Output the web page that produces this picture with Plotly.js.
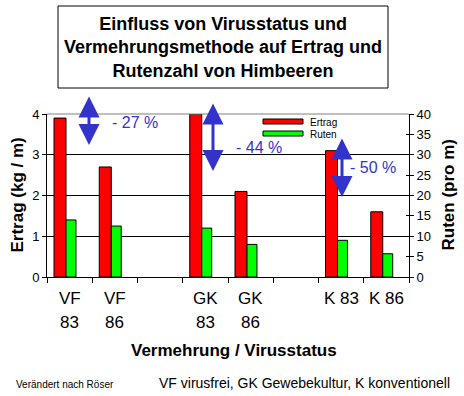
<!DOCTYPE html>
<html><head><meta charset="utf-8">
<script src="https://cdn.plot.ly/plotly-3.0.1.min.js"></script>
<style>body{margin:0;padding:0;background:#fff}#chart{width:464px;height:396px}</style>
</head><body><div id="chart"></div>
<script>
// Data
const positions = [0, 1, 3, 4, 6, 7];           // category slots (2 and 5 empty)
const labelLine1 = ['VF', 'VF', 'GK', 'GK', 'K 83', 'K 86'];
const labelLine2 = ['83', '86', '83', '86', '', ''];
const ertrag = [3.9, 2.7, 4.0, 2.1, 3.1, 1.6];  // kg / m
const ruten = [14, 12.5, 12, 8, 9, 5.7];        // pro m
const seriesNames = ['Ertrag', 'Ruten'];
const diffTexts = ['- 27 %', '- 44 %', '- 50 %'];
const boundaryTicks = [-0.5, 0.5, 1.5, 2.5, 3.5, 4.5, 5.5, 6.5, 7.5];

const FONT = 'Arial, "Liberation Sans", sans-serif';
const BLUE = '#3333cc';
const L = 47, R = 409, T = 114, B = 277;
const px = v => (v - L) / (R - L);
const py = v => (B - v) / (B - T);

const traces = [
  {type: 'bar', x: positions, y: ertrag, name: seriesNames[0], yaxis: 'y',
   width: 0.265, offset: -0.345,
   marker: {color: '#ff0000', line: {color: '#000', width: 1}}, showlegend: false},
  {type: 'bar', x: positions, y: ruten, name: seriesNames[1], yaxis: 'y2',
   width: 0.22, offset: -0.08,
   marker: {color: '#00ff00', line: {color: '#000', width: 1}}, showlegend: false},
  // invisible helper trace so the inner tick marks of the right axis are drawn
  {type: 'scatter', x: [positions[0]], y: [0], yaxis: 'y3', mode: 'markers', marker: {opacity: 0}, showlegend: false, hoverinfo: 'skip'}
];

const annotations = [];
positions.forEach((p, i) => {
  annotations.push({x: p, xref: 'x', y: py(298), yref: 'paper', text: labelLine1[i],
    showarrow: false, font: {family: FONT, size: 17, color: '#000'}, xanchor: 'center', yanchor: 'middle'});
  if (labelLine2[i]) annotations.push({x: p, xref: 'x', y: py(322), yref: 'paper', text: labelLine2[i],
    showarrow: false, font: {family: FONT, size: 17, color: '#000'}, xanchor: 'center', yanchor: 'middle'});
});
annotations.push(
  {x: px(223), y: py(48), xref: 'paper', yref: 'paper', xanchor: 'center', yanchor: 'middle',
   text: '<b>Einfluss von Virusstatus und<br>Vermehrungsmethode auf Ertrag und<br>Rutenzahl von Himbeeren</b>',
   showarrow: false, font: {family: FONT, size: 18, color: '#000'}},
  {x: px(234), y: py(350), xref: 'paper', yref: 'paper', xanchor: 'center', yanchor: 'middle', text: '<b>Vermehrung / Virusstatus</b>',
   showarrow: false, font: {family: FONT, size: 17, color: '#000'}},
  {x: px(17), y: 0.5, xref: 'paper', yref: 'paper', xanchor: 'center', yanchor: 'middle', text: '<b>Ertrag (kg / m)</b>', textangle: -90,
   showarrow: false, font: {family: FONT, size: 17, color: '#000'}},
  {x: px(448), y: 0.5, xref: 'paper', yref: 'paper', xanchor: 'center', yanchor: 'middle', text: '<b>Ruten (pro m)</b>', textangle: -90,
   showarrow: false, font: {family: FONT, size: 17, color: '#000'}},
  {x: px(14), y: py(384), xref: 'paper', yref: 'paper', text: 'Verändert nach Röser', xanchor: 'left', yanchor: 'middle',
   showarrow: false, font: {family: FONT, size: 10, color: '#000'}},
  {x: px(157), y: py(383), xref: 'paper', yref: 'paper', text: 'VF virusfrei, GK Gewebekultur, K konventionell', xanchor: 'left', yanchor: 'middle',
   showarrow: false, font: {family: FONT, size: 14, color: '#000'}},
  {x: px(308), y: py(122), xref: 'paper', yref: 'paper', text: seriesNames[0], xanchor: 'left', yanchor: 'middle',
   showarrow: false, font: {family: FONT, size: 10, color: '#000'}},
  {x: px(308), y: py(134), xref: 'paper', yref: 'paper', text: seriesNames[1], xanchor: 'left', yanchor: 'middle',
   showarrow: false, font: {family: FONT, size: 10, color: '#000'}}
);
// arrows
[[89, 95, 145], [213, 102, 171], [342, 137, 197]].forEach(a => {
  annotations.push({x: px(a[0]), y: py(a[2]), xref: 'paper', yref: 'paper', ax: 0, ay: a[1] - a[2],
    text: '', showarrow: true, arrowside: 'end+start', arrowhead: 2, arrowsize: 1.4, arrowwidth: 3,
    arrowcolor: BLUE, standoff: 0, startstandoff: 0});
});
[[110, 122], [234, 147], [348, 167]].forEach((p, i) => {
  annotations.push({x: px(p[0]), y: py(p[1]), xref: 'paper', yref: 'paper', text: diffTexts[i], xanchor: 'left', yanchor: 'middle',
    showarrow: false, font: {family: FONT, size: 16, color: BLUE}});
});

const shapes = [
  {type: 'line', xref: 'paper', yref: 'paper', x0: 0, x1: 1, y0: 1, y1: 1, line: {color: '#808080', width: 1}},
  {type: 'rect', xref: 'paper', yref: 'paper', x0: px(58), x1: px(388), y0: py(88), y1: py(6), line: {color: '#000', width: 1}},
  {type: 'rect', xref: 'paper', yref: 'paper', x0: px(263), x1: px(303), y0: py(124), y1: py(119), fillcolor: '#ff0000', line: {color: '#000', width: 1}},
  {type: 'rect', xref: 'paper', yref: 'paper', x0: px(263), x1: px(303), y0: py(136), y1: py(131), fillcolor: '#00ff00', line: {color: '#000', width: 1}}
];

const layout = {
  width: 464, height: 396,
  margin: {l: L, r: 464 - R, t: T, b: 396 - B, pad: 0},
  paper_bgcolor: '#fff', plot_bgcolor: '#fff',
  font: {family: FONT, size: 12, color: '#000'},
  xaxis: {range: [-0.5, 7.5], tickvals: boundaryTicks, ticktext: boundaryTicks.map(() => ''), ticks: 'outside', ticklen: 5,
    tickcolor: '#000', showline: true, linecolor: '#000', linewidth: 1, showgrid: false, zeroline: false, fixedrange: true},
  yaxis: {range: [0, 4], dtick: 1, ticks: 'outside', ticklen: 4, tickcolor: '#000', showline: true, linecolor: '#000',
    showgrid: true, gridcolor: '#000', gridwidth: 1, zeroline: false, tickfont: {family: FONT, size: 13}},
  yaxis2: {range: [0, 40], dtick: 5, overlaying: 'y', side: 'right', ticks: 'outside', ticklen: 4, tickcolor: '#000',
    showline: true, linecolor: '#000', showgrid: false, zeroline: false, tickfont: {family: FONT, size: 13}},
  yaxis3: {range: [0, 40], dtick: 5, overlaying: 'y', side: 'right', ticks: 'inside', ticklen: 3, tickcolor: '#000',
    showline: false, showticklabels: false, showgrid: false, zeroline: false},
  barmode: 'overlay',
  annotations: annotations,
  shapes: shapes,
  showlegend: false
};

Plotly.newPlot('chart', traces, layout, {displayModeBar: false, staticPlot: true});
</script>
</body></html>
